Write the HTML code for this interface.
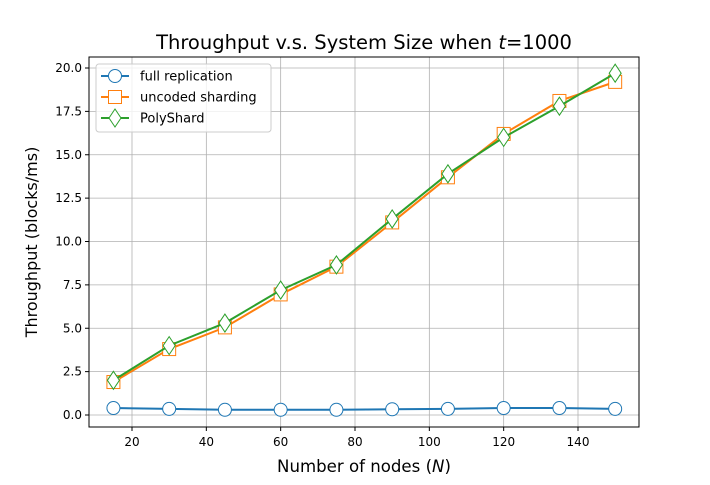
<!DOCTYPE html>
<html><head><meta charset="utf-8">
<style>
body{margin:0;background:#fff;}
svg text{font-family:"DejaVu Sans","Liberation Sans",sans-serif;}
</style></head>
<body>
<svg id="chart" width="710" height="480" xmlns="http://www.w3.org/2000/svg">
<rect width="710" height="480" fill="#fff"/>
<g id="grid"></g>
<g id="axes"></g>
<g id="series"></g>
<text x="364" y="49" text-anchor="middle" font-size="19.5">Throughput v.s. System Size when <tspan font-style="italic">t</tspan>=1000</text>
<text x="364" y="472" text-anchor="middle" font-size="16.6">Number of nodes (<tspan font-style="italic">N</tspan>)</text>
<text transform="translate(37,242) rotate(-90)" text-anchor="middle" font-size="16">Throughput (blocks/ms)</text>
<g id="legend">
<rect x="96" y="64" width="175" height="68" rx="3" fill="#fff" fill-opacity="0.8" stroke="#ccc"/>
</g>
</svg>
<script>
const nodes=[15,30,45,60,75,90,105,120,135,150];
const fullRep=[0.4,0.35,0.3,0.3,0.3,0.33,0.35,0.4,0.4,0.35];
const uncoded=[1.9,3.8,5.05,6.95,8.55,11.1,13.7,16.2,18.1,19.2];
const polyShard=[2.0,4.0,5.3,7.2,8.65,11.3,13.9,16.0,17.8,19.7];
const xTicks=[20,40,60,80,100,120,140];
const yTicks=[0,2.5,5,7.5,10,12.5,15,17.5,20];
const yTickLabels=["0.0","2.5","5.0","7.5","10.0","12.5","15.0","17.5","20.0"];

const L=89,R=639,T=57,B=427;
const xs=v=>132+(v-20)*(578-132)/120;
const ys=v=>415-v*(415-68)/20;
const NS="http://www.w3.org/2000/svg";
function mk(parent,tag,attrs){const e=document.createElementNS(NS,tag);for(const k in attrs)e.setAttribute(k,attrs[k]);parent.appendChild(e);return e;}
const grid=document.getElementById('grid'),axes=document.getElementById('axes'),ser=document.getElementById('series');
xTicks.forEach(t=>{
  const g=mk(grid,'line',{x1:xs(t),x2:xs(t),y1:T,y2:B,stroke:'#b0b0b0','stroke-width':0.8});
  
  
  mk(axes,'line',{x1:xs(t),x2:xs(t),y1:B,y2:B+4,stroke:'#000'});
  const tx=mk(axes,'text',{x:xs(t),y:B+19,'text-anchor':'middle','font-size':12});
  tx.textContent=t;
  
  
});
yTicks.forEach((t,i)=>{
  const g=mk(grid,'line',{x1:L,x2:R,y1:ys(t),y2:ys(t),stroke:'#b0b0b0','stroke-width':0.8});
  
  
  mk(axes,'line',{x1:L-4,x2:L,y1:ys(t),y2:ys(t),stroke:'#000'});
  const tx=mk(axes,'text',{x:L-7,y:ys(t)+4,'text-anchor':'end','font-size':12});
  tx.textContent=yTickLabels[i];
  
  
});
const frame=mk(axes,'rect',{x:L,y:T,width:R-L,height:B-T,fill:'none',stroke:'#000','stroke-width':1});



function marker(g,type,x,y,c){
  if(type==='o')return mk(g,'circle',{cx:x,cy:y,r:6.5,fill:'#fff',stroke:c,'stroke-width':1});
  if(type==='s')return mk(g,'rect',{x:x-6.5,y:y-6.5,width:13,height:13,fill:'#fff',stroke:c,'stroke-width':1});
  return mk(g,'polygon',{points:`${x},${y-9} ${x+6},${y} ${x},${y+9} ${x-6},${y}`,fill:'#fff',stroke:c,'stroke-width':1});
}
const defs=[[fullRep,'#1f77b4','o','full replication'],[uncoded,'#ff7f0e','s','uncoded sharding'],[polyShard,'#2ca02c','d','PolyShard']];
const leg=document.getElementById('legend');
defs.forEach(([vals,c,m,name],si)=>{
  const g=mk(ser,'g',{});
  
  
  const pl=mk(g,'polyline',{points:vals.map((v,i)=>xs(nodes[i])+','+ys(v)).join(' '),fill:'none',stroke:c,'stroke-width':2});
  
  
  vals.forEach((v,i)=>{
    const p=marker(g,m,xs(nodes[i]),ys(v),c);
    
    
  });
  const ly=76+si*21;
  const e=mk(leg,'g',{});
  
  
  mk(e,'line',{x1:101,x2:129,y1:ly,y2:ly,stroke:c,'stroke-width':2});
  marker(e,m,115,ly,c);
  const t=mk(e,'text',{x:140,y:ly+4.5,'font-size':13});
  t.textContent=name;
});
</script>
</body></html>
